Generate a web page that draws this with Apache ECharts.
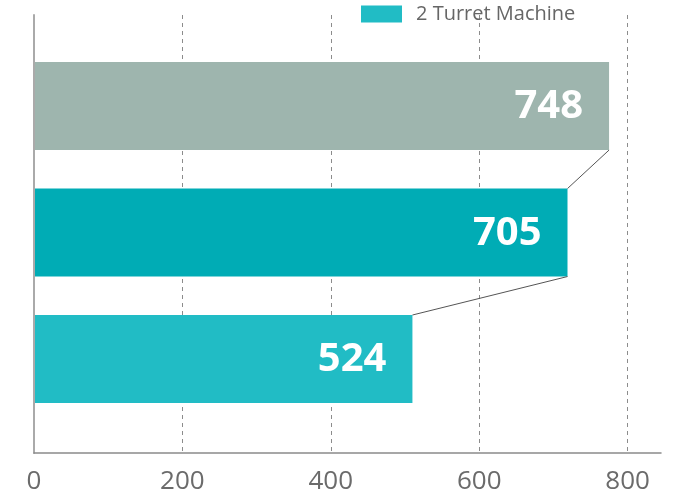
<!DOCTYPE html>
<html>
<head>
<meta charset="utf-8">
<script src="https://cdn.jsdelivr.net/npm/echarts@6/dist/echarts.min.js"></script>
<style>html,body{margin:0;padding:0;background:#fff;}#c{width:684px;height:497px;}</style>
</head>
<body>
<div id="c"></div>
<script>
// Bars, listed top to bottom
const categories = ['Bar A', 'Bar B', '2 Turret Machine'];
const positions = [3, 2, 1];           // slot on the vertical axis
const barValues = [775, 719, 510];     // drawn bar lengths (x-axis units)
const labelValues = ['748', '705', '524']; // numbers printed on the bars
const xTicks = [0, 200, 400, 600, 800];
const legendNames = ['2 Turret Machine'];

const barColors = ['#9EB5AE', '#00ACB5', '#21BCC5'];
const BAR_H = 88;

const chart = echarts.init(document.getElementById('c'), null, {renderer: 'canvas'});

const data = categories.map((c, i) => ({name: c, value: [barValues[i], positions[i], labelValues[i]]}));

chart.setOption({
  animation: false,
  backgroundColor: '#fff',
  grid: {left: 34, right: 23, top: 15, bottom: 44, containLabel: false},
  legend: {
    data: legendNames,
    top: 4, left: 361, padding: 0,
    icon: 'rect', itemWidth: 41, itemHeight: 17,
    textStyle: {color: '#666', fontSize: 20, fontFamily: 'Open Sans', padding: [0, 0, 0, 9]}
  },
  xAxis: {
    type: 'value', min: 0, max: 845, interval: 200,
    axisLine: {show: true, onZero: false, lineStyle: {color: '#8a8a8a', width: 1.5}},
    axisTick: {show: false},
    axisLabel: {
      color: '#6b6b6b', fontSize: 26, fontFamily: 'Open Sans', margin: 16,
      showMaxLabel: false,
      formatter: v => (xTicks.indexOf(v) >= 0 ? String(v) : '')
    },
    splitLine: {show: true, lineStyle: {type: [4, 4], width: 1,
      color: ['rgba(0,0,0,0)', '#8c8c8c', '#8c8c8c', '#8c8c8c', '#8c8c8c', 'rgba(0,0,0,0)']}}
  },
  yAxis: {
    type: 'value', min: 0.257, max: 3.72,
    axisLine: {show: true, onZero: false, lineStyle: {color: '#aaaaaa', width: 2}},
    axisTick: {show: false},
    axisLabel: {show: false},
    splitLine: {show: false}
  },
  series: [{
    type: 'custom',
    name: '2 Turret Machine',
    itemStyle: {color: '#21BCC5'},
    encode: {x: 0, y: 1},
    data: data,
    renderItem: function (params, api) {
      const i = params.dataIndex;
      const v = api.value(0), p = api.value(1);
      const s = api.coord([0, p]);
      const e = api.coord([v, p]);
      const children = [{
        type: 'rect',
        shape: {x: s[0] + 1, y: e[1] - BAR_H / 2, width: e[0] - s[0] - 1, height: BAR_H},
        style: {fill: barColors[i]}
      }, {
        type: 'text',
        x: e[0] - 26, y: e[1] + 1,
        style: {text: labelValues[i], fill: '#fff', font: 'bold 40px "Open Sans"',
                textAlign: 'right', textVerticalAlign: 'middle'}
      }];
      if (i < barValues.length - 1) {
        const n = api.coord([barValues[i + 1], positions[i + 1]]);
        children.push({
          type: 'line',
          shape: {x1: e[0], y1: e[1] + BAR_H / 2, x2: n[0], y2: n[1] - BAR_H / 2},
          style: {stroke: '#555', lineWidth: 1}
        });
      }
      return {type: 'group', children: children};
    }
  }]
});
</script>
</body>
</html>
